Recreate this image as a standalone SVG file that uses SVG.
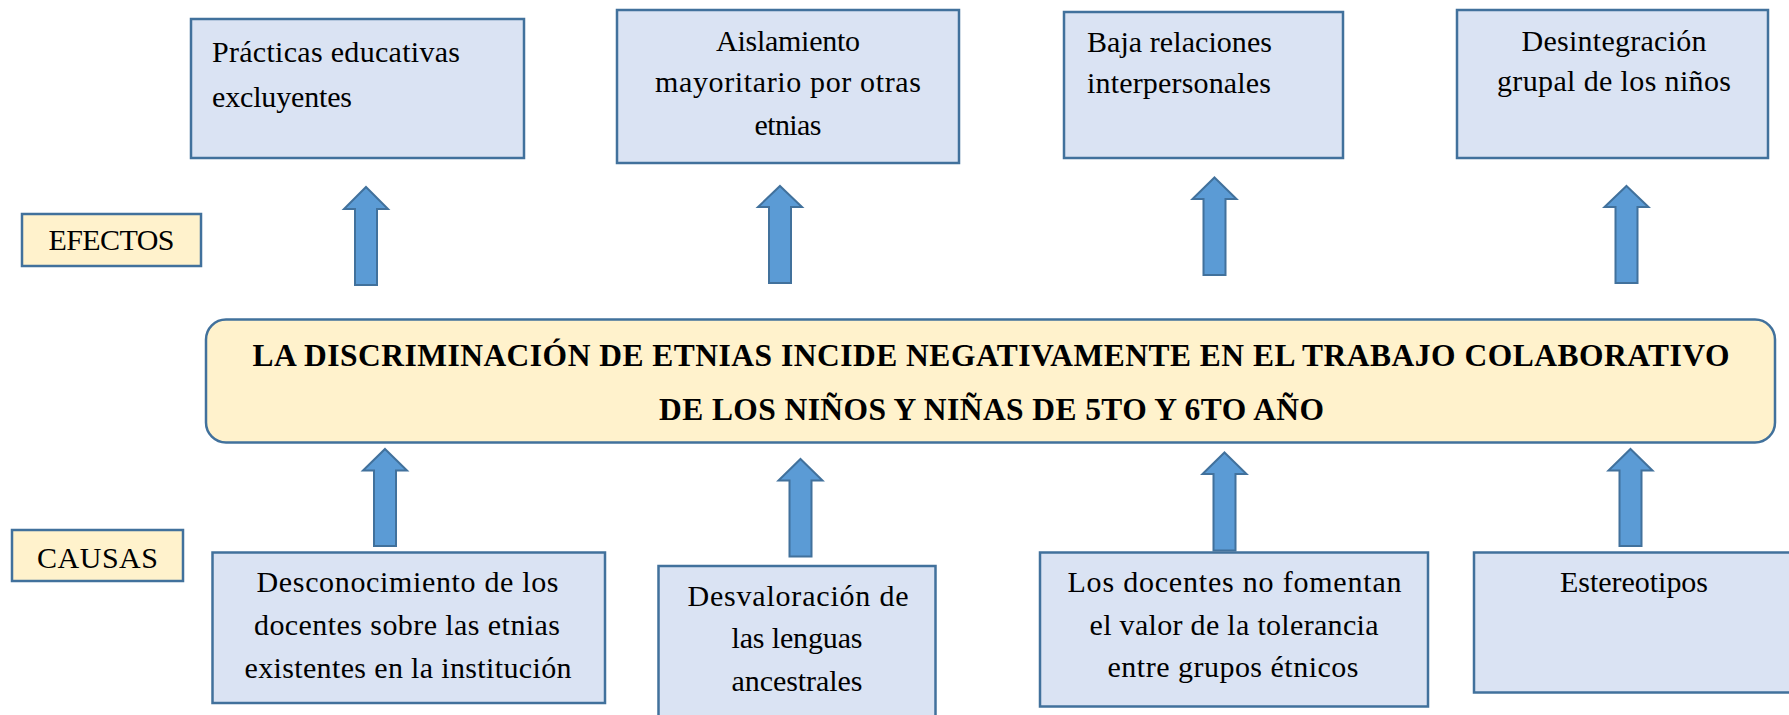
<svg xmlns="http://www.w3.org/2000/svg" width="1789" height="715" viewBox="0 0 1789 715">
<style>
.box{fill:#DAE3F3;stroke:#41719C;stroke-width:2.5}
.lbl{fill:#FFF2CC;stroke:#41719C;stroke-width:2.5}
.core{fill:#FFF2CC;stroke:#41719C;stroke-width:2.5}
.arr{fill:#5B9BD5;stroke:#41719C;stroke-width:2}
text{font-family:"Liberation Serif","Times New Roman",serif;font-size:30px;fill:#000}
.c{text-anchor:middle}
.b{font-weight:bold;font-size:31.5px}
</style>
<rect width="1789" height="715" fill="#FFFFFF"/>
<g id="efectos"><rect class="lbl" x="22" y="214" width="179" height="52"/><text class="c" x="111.5" y="250" textLength="126" lengthAdjust="spacing">EFECTOS</text></g>
<g id="causas"><rect class="lbl" x="12" y="530" width="171" height="51"/><text class="c" x="97.5" y="568" textLength="121" lengthAdjust="spacing">CAUSAS</text></g>
<g id="efecto1"><rect class="box" x="191" y="19" width="333" height="139"/><text x="212" y="62" textLength="248" lengthAdjust="spacing">Prácticas educativas</text><text x="212" y="107" textLength="140" lengthAdjust="spacing">excluyentes</text></g>
<g id="efecto2"><rect class="box" x="617" y="10" width="342" height="153"/><text class="c" x="788" y="51" textLength="144" lengthAdjust="spacing">Aislamiento</text><text class="c" x="788" y="92" textLength="266" lengthAdjust="spacing">mayoritario por otras</text><text class="c" x="788" y="135" textLength="67" lengthAdjust="spacing">etnias</text></g>
<g id="efecto3"><rect class="box" x="1064" y="12" width="279" height="146"/><text x="1087" y="52" textLength="185" lengthAdjust="spacing">Baja relaciones</text><text x="1087" y="93" textLength="184" lengthAdjust="spacing">interpersonales</text></g>
<g id="efecto4"><rect class="box" x="1457" y="10" width="311" height="148"/><text class="c" x="1614" y="51" textLength="185" lengthAdjust="spacing">Desintegración</text><text class="c" x="1614" y="91" textLength="234" lengthAdjust="spacing">grupal de los niños</text></g>
<g id="problema"><rect class="core" x="206" y="319.5" width="1569" height="123" rx="20" ry="20"/><text class="c b" x="991" y="366" textLength="1477" lengthAdjust="spacing">LA DISCRIMINACIÓN DE ETNIAS  INCIDE NEGATIVAMENTE  EN EL TRABAJO COLABORATIVO</text><text class="c b" x="991.5" y="420" textLength="665" lengthAdjust="spacing">DE LOS NIÑOS Y NIÑAS DE 5TO Y 6TO AÑO</text></g>
<g id="causa1"><rect class="box" x="212.5" y="552.5" width="392.5" height="150.5"/><text class="c" x="407.5" y="592" textLength="302" lengthAdjust="spacing">Desconocimiento de los</text><text class="c" x="407" y="635" textLength="306" lengthAdjust="spacing">docentes sobre las etnias</text><text class="c" x="408" y="678" textLength="327" lengthAdjust="spacing">existentes en la institución</text></g>
<g id="causa2"><rect class="box" x="658.5" y="566" width="277" height="160"/><text class="c" x="798" y="606" textLength="221" lengthAdjust="spacing">Desvaloración de</text><text class="c" x="797" y="648" textLength="131" lengthAdjust="spacing">las lenguas</text><text class="c" x="797" y="691" textLength="131" lengthAdjust="spacing">ancestrales</text></g>
<g id="causa3"><rect class="box" x="1040" y="552.5" width="388" height="154"/><text class="c" x="1234.5" y="592" textLength="334" lengthAdjust="spacing">Los docentes no fomentan</text><text class="c" x="1234" y="635" textLength="289" lengthAdjust="spacing">el valor de la tolerancia</text><text class="c" x="1233" y="677" textLength="251" lengthAdjust="spacing">entre grupos étnicos</text></g>
<g id="causa4"><rect class="box" x="1474" y="552.5" width="321" height="140"/><text class="c" x="1634" y="592" textLength="148" lengthAdjust="spacing">Estereotipos</text></g>
<g id="connectors">
<path class="arr" d="M366,187 L388,209 L377,209 L377,285 L355,285 L355,209 L344,209 Z"/>
<path class="arr" d="M780,186 L802,207 L791,207 L791,283 L769,283 L769,207 L758,207 Z"/>
<path class="arr" d="M1214.5,177.5 L1236.5,199 L1225.5,199 L1225.5,275 L1203.5,275 L1203.5,199 L1192.5,199 Z"/>
<path class="arr" d="M1626.5,186 L1648.5,207 L1637.5,207 L1637.5,283 L1615.5,283 L1615.5,207 L1604.5,207 Z"/>
<path class="arr" d="M385,449 L407,470.5 L396,470.5 L396,546 L374,546 L374,470.5 L363,470.5 Z"/>
<path class="arr" d="M800.5,459 L822.5,480.5 L811.5,480.5 L811.5,556.5 L789.5,556.5 L789.5,480.5 L778.5,480.5 Z"/>
<path class="arr" d="M1224.5,452.5 L1246.5,474 L1235.5,474 L1235.5,550.5 L1213.5,550.5 L1213.5,474 L1202.5,474 Z"/>
<path class="arr" d="M1630.5,449 L1652.5,470.5 L1641.5,470.5 L1641.5,546 L1619.5,546 L1619.5,470.5 L1608.5,470.5 Z"/>
</g>
</svg>
